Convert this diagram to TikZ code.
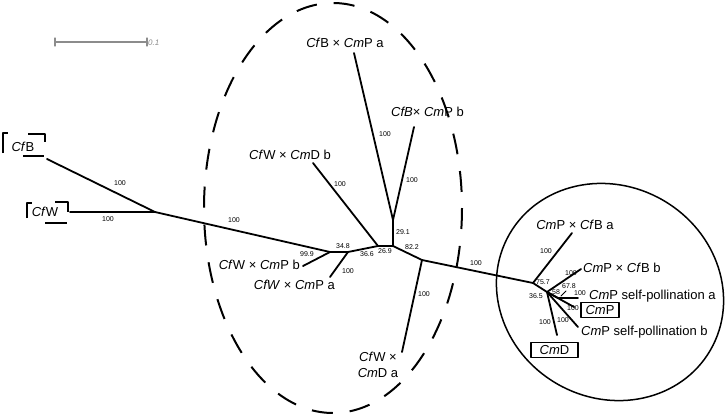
\documentclass[tikz,border=0pt]{standalone}
\usepackage{fontspec}
\setmainfont{Liberation Sans}
\begin{document}
\begin{tikzpicture}[x=1pt,y=-1pt,line join=round,line cap=round,
  br/.style={line width=1.8pt},
  bs/.style={font=\fontsize{7}{8}\selectfont,inner sep=0pt},
  lab/.style={font=\fontsize{13}{15}\selectfont,inner sep=0pt},
  fr/.style={line width=1.5pt,line cap=butt},
  boxed/.style={draw,line width=1.5pt,font=\fontsize{13}{15}\selectfont,inner sep=0pt,minimum height=15pt},
  sbar/.style={draw=black!45,line width=1.3pt}]
\useasboundingbox (0,0) rectangle (726,418);
% scale bar
\coordinate (s1) at (55,42);
\coordinate (s2) at (147,42);
\draw[sbar] (s1) -- (s2);
\draw[sbar] ([yshift=4pt]s1) -- ([yshift=-4pt]s1);
\draw[sbar] ([yshift=4pt]s2) -- ([yshift=-4pt]s2);
\node[anchor=west,inner sep=0pt,text=black!45,font=\fontsize{8}{9}\selectfont\itshape] (sl) at (148,43) {0.1};
% ellipses
\draw[line width=2pt,dash pattern=on 21pt off 17pt,line cap=butt] (333,208) ellipse [x radius=129,y radius=205];
\draw[line width=1.5pt,rotate around={-30:(610,292)}] (610,292) ellipse [x radius=116,y radius=106];
% junctions
\coordinate (tB) at (47,159);
\coordinate (tW) at (70,212);
\coordinate (R) at (155,212);
\coordinate (A) at (330,252);
\coordinate (B) at (348,252);
\coordinate (C) at (378,246);
\coordinate (D) at (393,246);
\coordinate (E) at (393,220);
\coordinate (F) at (422,260);
\coordinate (G) at (533,283);
\coordinate (H) at (547,292);
\coordinate (J) at (558,298);
% tips
\coordinate (tWPb) at (303,266);
\coordinate (tWPa) at (330,277);
\coordinate (tWDb) at (313,163);
\coordinate (tBPa) at (354,53);
\coordinate (tBPb) at (414,127);
\coordinate (tWDa) at (402,352);
\coordinate (tPBa) at (572,233);
\coordinate (tPBb) at (581,269);
\coordinate (tSa) at (578,298);
\coordinate (tP) at (574,307);
\coordinate (tSb) at (578,327);
\coordinate (tD) at (557,335);
\coordinate (k1) at (561,296);
\coordinate (k2) at (566,291);
% branches
\draw[br] (tB) -- (R);
\draw[br] (tW) -- (R);
\draw[br] (R) -- (A);
\draw[br] (A) -- (tWPb);
\draw[br] (A) -- (B);
\draw[br] (B) -- (tWPa);
\draw[br] (B) -- (C);
\draw[br] (C) -- (tWDb);
\draw[br] (C) -- (D);
\draw[br] (D) -- (E);
\draw[br] (E) -- (tBPa);
\draw[br] (E) -- (tBPb);
\draw[br] (D) -- (F);
\draw[br] (F) -- (tWDa);
\draw[br] (F) -- (G);
\draw[br] (G) -- (tPBa);
\draw[br] (G) -- (H);
\draw[br] (H) -- (tPBb);
\draw[br] (H) -- (J) -- (tSa);
\draw[br] (H) -- (tP);
\draw[br] (H) -- (tSb);
\draw[br] (H) -- (tD);
\draw[line width=1pt] (k1) -- (k2);
% support values
\node[bs] (v1) at (120,183) {100};
\node[bs] (v2) at (108,219) {100};
\node[bs] (v3) at (234,220) {100};
\node[bs] (v4) at (307,254) {99.9};
\node[bs] (v5) at (343,246) {34.8};
\node[bs] (v6) at (367,254) {36.6};
\node[bs] (v7) at (348,271) {100};
\node[bs] (v8) at (385,251) {26.9};
\node[bs] (v9) at (340,184) {100};
\node[bs] (v10) at (403,232) {29.1};
\node[bs] (v11) at (385,134) {100};
\node[bs] (v12) at (412,180) {100};
\node[bs] (v13) at (412,247) {82.2};
\node[bs] (v14) at (424,294) {100};
\node[bs] (v15) at (476,263) {100};
\node[bs] (v16) at (546,251) {100};
\node[bs] (v17) at (543,282) {75.7};
\node[bs] (v18) at (536,296) {36.5};
\node[bs] (v19) at (556,292) {58};
\node[bs] (v20) at (569,286) {67.8};
\node[bs] (v21) at (571,273) {100};
\node[bs] (v22) at (580,293) {100};
\node[bs] (v23) at (573,308) {100};
\node[bs] (v24) at (563,320) {100};
\node[bs] (v25) at (545,322) {100};
% taxon labels
\node[lab] (LBPa) at (345,43) {\textit{Cf}B × \textit{Cm}P a};
\node[lab,anchor=west] (LBPb) at (391,112) {\textit{CfB}× \textit{Cm}P b};
\node[lab] (LWDb) at (290,155) {\textit{Cf}W × \textit{Cm}D b};
\node[lab,anchor=east] (LWPb) at (300,265) {\textit{Cf}W × \textit{Cm}P b};
\node[lab,anchor=east] (LWPa) at (335,285) {\textit{CfW} × \textit{Cm}P a};
\node[lab,align=center] (LWDa) at (378,365) {\textit{Cf}W ×\\[1pt]\textit{Cm}D a};
\node[lab] (LPBa) at (575,225) {\textit{Cm}P × \textit{Cf}B a};
\node[lab,anchor=west] (LPBb) at (583,268) {\textit{Cm}P × \textit{Cf}B b};
\node[lab,anchor=west] (LSa) at (589,296) {\textit{Cm}P self-pollination a};
\node[lab,anchor=west] (LSb) at (581,332) {\textit{Cm}P self-pollination b};
\node[boxed,minimum width=38pt] (LP) at (600,310) {\textit{Cm}P};
\node[boxed,minimum width=47pt] (LD) at (554.5,350) {\textit{Cm}D};
\node[lab] (LB) at (23,147) {\textit{Cf}B};
\node[lab] (LW) at (45,212) {\textit{Cf}W};
% frames
\draw[fr] (3,153) -- (3,133) -- (8,133);
\draw[fr] (28,134) -- (45,134) -- (45,142);
\draw[fr] (23,156) -- (44,156);
\draw[fr] (27,218) -- (27,203) -- (32,203);
\draw[fr] (55,202) -- (68,202) -- (68,212);
\draw[fr] (45,223) -- (67,223);
\end{tikzpicture}
\end{document}
